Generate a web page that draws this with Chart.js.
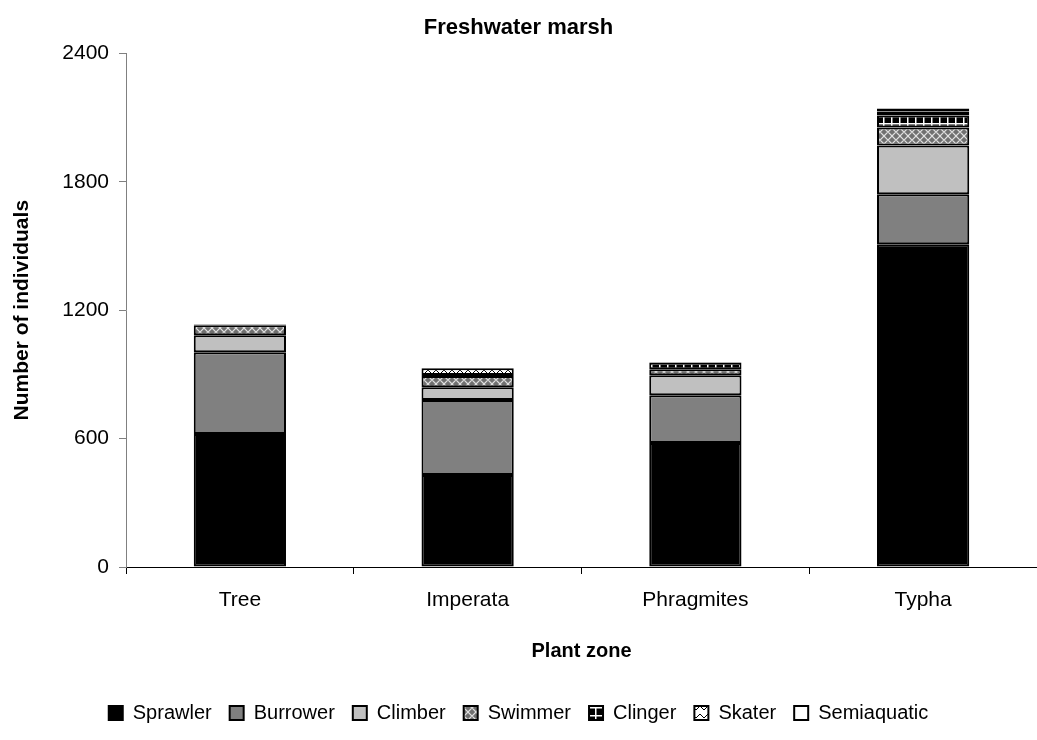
<!DOCTYPE html>
<html>
<head>
<meta charset="utf-8">
<title>Freshwater marsh</title>
<script src="https://cdn.jsdelivr.net/npm/chart.js@4.4.1/dist/chart.umd.min.js"></script>
<style>
  html, body { margin: 0; padding: 0; background: #fff; }
  #wrap { width: 1037px; height: 740px; }
</style>
</head>
<body>
<div id="wrap"><canvas id="chart" width="1037" height="740"></canvas></div>
<script>
const zones = ["Tree", "Imperata", "Phragmites", "Typha"];
const sprawler = [621, 430, 579, 1508];
const burrower = [383, 350, 224, 234];
const climber = [79, 60, 93, 228];
const swimmer = [47, 52, 28, 84];
const clinger = [0, 5, 30, 56];
const skater = [3, 32, 3, 18];
const semiaquatic = [0, 0, 0, 15];
const yTicks = [0, 600, 1200, 1800, 2400];

const FONT = "'Liberation Sans', Arial, sans-serif";

// small tiles used as fill patterns for the upper groups
function makePattern(size, draw) {
  const c = document.createElement("canvas");
  c.width = size; c.height = size;
  const g = c.getContext("2d");
  draw(g, size);
  return g.createPattern(c, "repeat");
}

const swimmerFill = makePattern(8, (g, s) => {
  g.fillStyle = "#707070";
  g.fillRect(0, 0, s, s);
  g.strokeStyle = "#e0e0e0";
  g.lineWidth = 1.2;
  g.beginPath();
  g.moveTo(0, 4); g.lineTo(4, 0); g.lineTo(8, 4); g.lineTo(4, 8); g.closePath();
  g.stroke();
});

const clingerFill = makePattern(8, (g, s) => {
  g.fillStyle = "#000";
  g.fillRect(0, 0, s, s);
  g.fillStyle = "#fff";
  g.fillRect(0, 3, s, 1.5);
  g.fillRect(3, 0, 1.5, s);
});

const skaterFill = makePattern(8, (g, s) => {
  g.fillStyle = "#fff";
  g.fillRect(0, 0, s, s);
  g.strokeStyle = "#000";
  g.lineWidth = 1;
  g.beginPath();
  g.moveTo(0, 6); g.lineTo(4, 2); g.lineTo(8, 6);
  g.stroke();
});

function series(label, data, fill) {
  return {
    label: label,
    data: data,
    backgroundColor: fill,
    borderColor: "#000",
    borderWidth: 2,
    borderSkipped: false,
    barPercentage: 0.405,
    categoryPercentage: 1
  };
}

new Chart(document.getElementById("chart"), {
  type: "bar",
  data: {
    labels: zones,
    datasets: [
      series("Sprawler", sprawler, "#000000"),
      series("Burrower", burrower, "#808080"),
      series("Climber", climber, "#c0c0c0"),
      series("Swimmer", swimmer, swimmerFill),
      series("Clinger", clinger, clingerFill),
      series("Skater", skater, skaterFill),
      series("Semiaquatic", semiaquatic, "#ffffff")
    ]
  },
  options: {
    responsive: false,
    animation: false,
    layout: { padding: { left: 0, right: 0, top: 0, bottom: 7 } },
    plugins: {
      title: {
        display: true,
        text: "Freshwater marsh",
        color: "#000",
        font: { family: FONT, size: 22, weight: "bold" },
        padding: { top: 15, bottom: 12 }
      },
      legend: {
        position: "bottom",
        labels: {
          color: "#000",
          font: { family: FONT, size: 20 },
          boxWidth: 14,
          boxHeight: 14,
          padding: 18
        }
      },
      tooltip: { enabled: false }
    },
    scales: {
      x: {
        stacked: true,
        grid: { display: true, drawOnChartArea: false, offset: true, color: "#000", tickLength: 7 },
        border: { display: true, color: "#000", width: 1 },
        ticks: { color: "#000", font: { family: FONT, size: 21 }, padding: 14 },
        title: {
          display: true,
          text: "Plant zone",
          color: "#000",
          font: { family: FONT, size: 20, weight: "bold" },
          padding: { top: 10, bottom: 22 }
        },
        afterFit: s => { s.height = 118; }
      },
      y: {
        stacked: true,
        min: 0,
        max: 2400,
        afterBuildTicks: s => { s.ticks = yTicks.map(v => ({ value: v })); },
        grid: { display: true, drawOnChartArea: false, color: "#808080", tickLength: 7 },
        border: { display: true, color: "#808080", width: 1 },
        ticks: { color: "#000", font: { family: FONT, size: 21 }, padding: 10, callback: v => String(v) },
        title: {
          display: true,
          text: "Number of individuals",
          color: "#000",
          font: { family: FONT, size: 21, weight: "bold" },
          padding: { top: 10, bottom: 4 }
        },
        afterFit: s => { s.width = 126; }
      }
    }
  }
});
</script>
</body>
</html>
